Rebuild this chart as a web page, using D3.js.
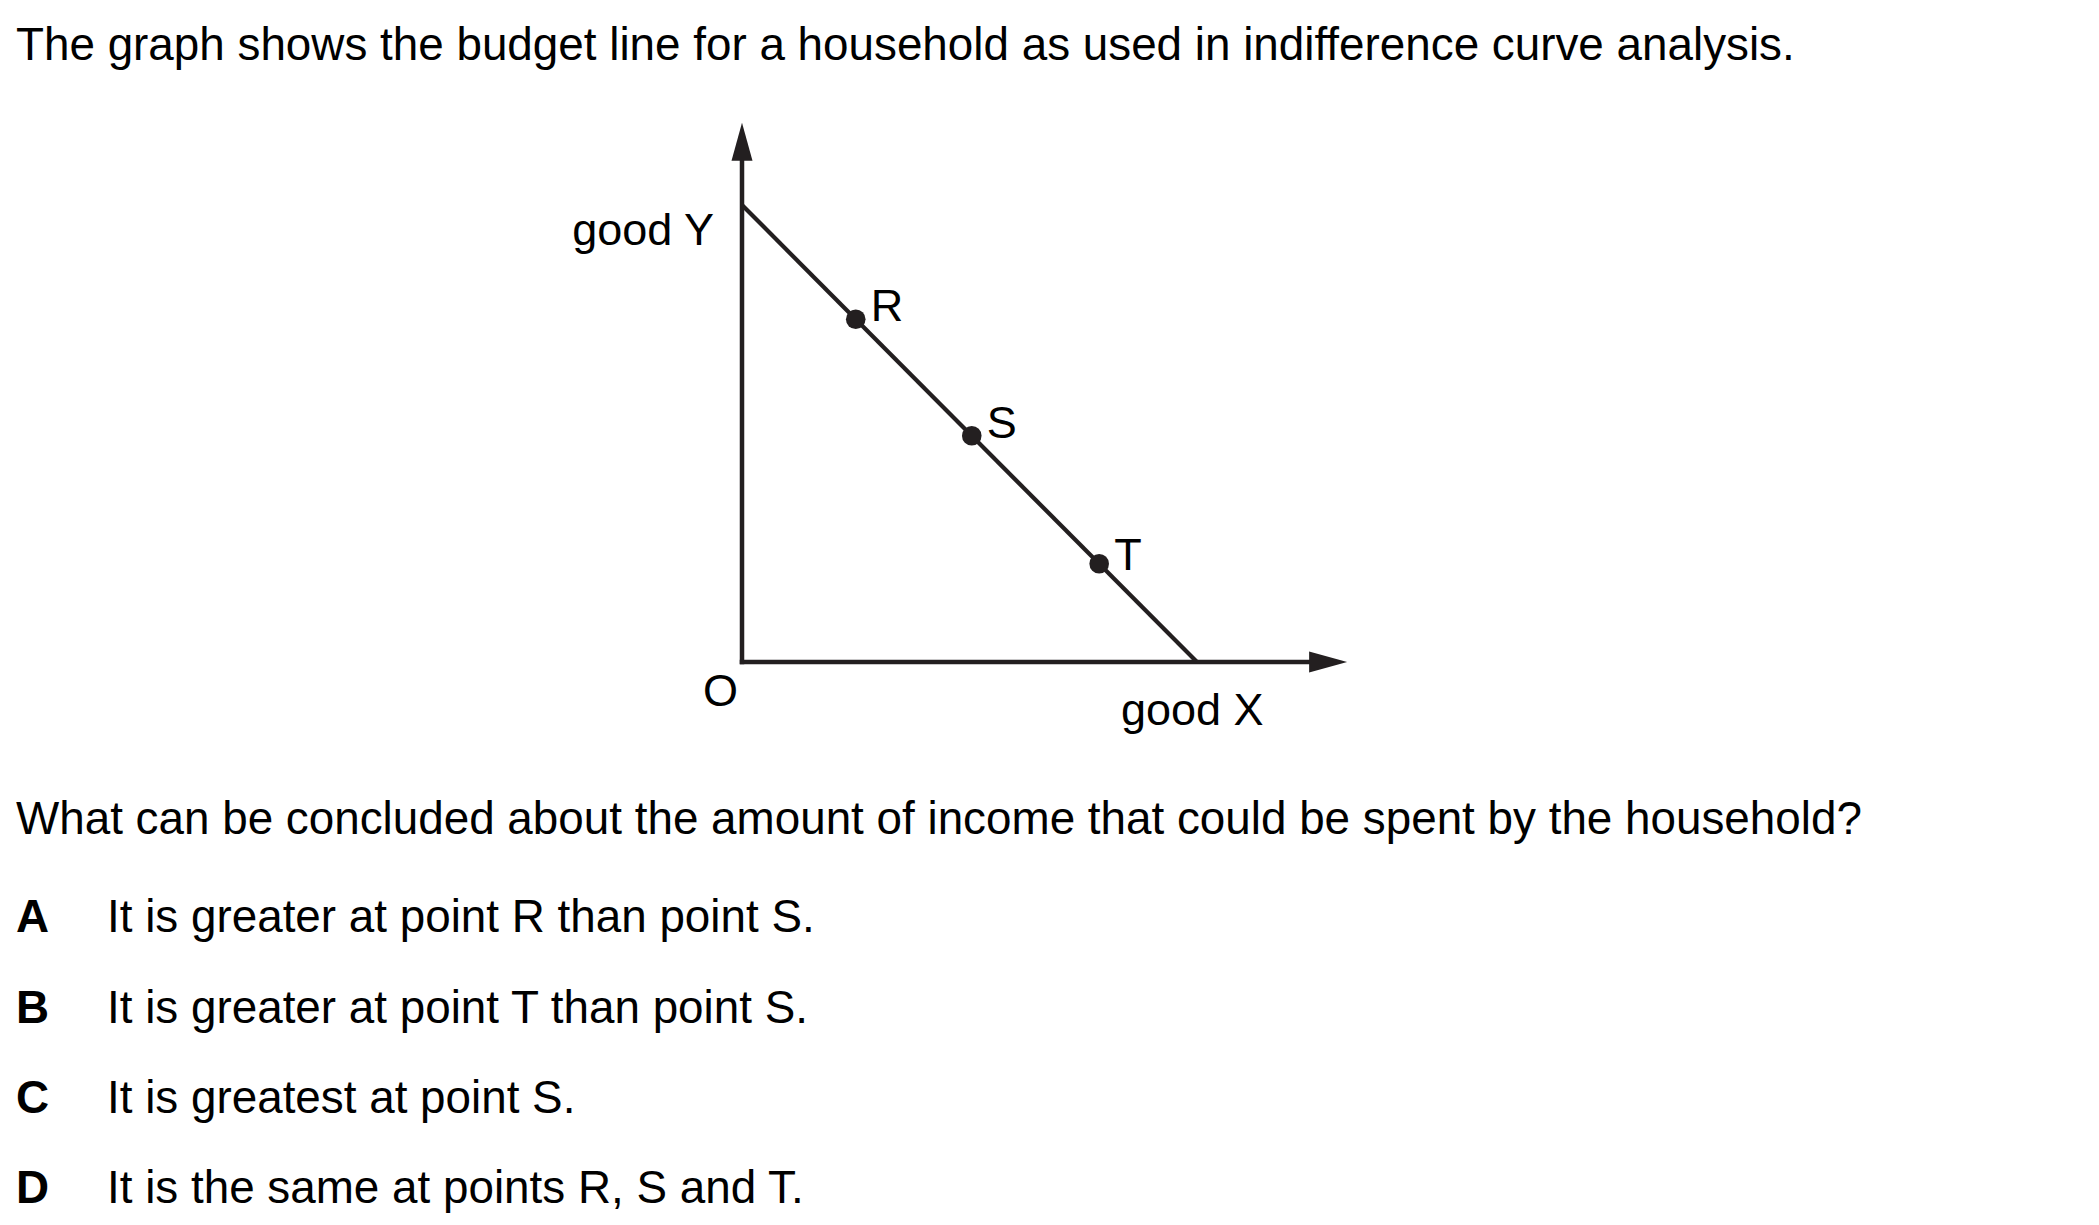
<!DOCTYPE html>
<html>
<head>
<meta charset="utf-8">
<script src="https://cdn.jsdelivr.net/npm/d3@7"></script>
<style>
  html, body { margin: 0; padding: 0; background: #ffffff; }
  svg { display: block; }
  text { font-family: "Liberation Sans", Arial, Helvetica, sans-serif; fill: #000; }
</style>
</head>
<body>
<svg id="chart" width="2099" height="1225"></svg>
<script>
// ---- data ----
const titleText = "The graph shows the budget line for a household as used in indifference curve analysis.";
const questionText = "What can be concluded about the amount of income that could be spent by the household?";
const optionLetters = ["A", "B", "C", "D"];
const optionTexts = [
  "It is greater at point R than point S.",
  "It is greater at point T than point S.",
  "It is greatest at point S.",
  "It is the same at points R, S and T."
];
const axisLabels = ["good X", "good Y"];
const originLabel = "O";
// budget line intercepts (units of good X / good Y)
const budgetX = [0, 10];
const budgetY = [10, 0];
// points on the budget line
const pointNames = ["R", "S", "T"];
const pointX = [2.5, 5.05, 7.85];
const pointY = [7.5, 4.95, 2.15];
// axis extents (arrow tips)
const axisMaxX = 13.3;
const axisMaxY = 11.8;

// ---- layout ----
const ink = "#231f20";
const bodySize = 45.8;
const svg = d3.select("#chart");
const x = d3.scaleLinear().domain([0, 10]).range([742, 1197]);
const y = d3.scaleLinear().domain([0, 10]).range([662, 205]);

// texts
svg.append("text").attr("x", 16).attr("y", 60).attr("font-size", bodySize).text(titleText);
svg.append("text").attr("x", 16).attr("y", 834).attr("font-size", bodySize).text(questionText);
const optBase = [932, 1023, 1113, 1203];
optionLetters.forEach((L, i) => {
  svg.append("text").attr("x", 16).attr("y", optBase[i]).attr("font-size", bodySize)
    .attr("font-weight", "bold").text(L);
  svg.append("text").attr("x", 107).attr("y", optBase[i]).attr("font-size", bodySize).text(optionTexts[i]);
});

// axes
const g = svg.append("g");
const arrowLen = 38, arrowHalf = 10.5, sw = 4.5;
// y axis
g.append("line")
  .attr("x1", x(0)).attr("y1", y(0) + sw / 2)
  .attr("x2", x(0)).attr("y2", y(axisMaxY) + arrowLen - 2)
  .attr("stroke", ink).attr("stroke-width", sw);
g.append("path")
  .attr("d", d3.line()([
    [x(0), y(axisMaxY)],
    [x(0) - arrowHalf, y(axisMaxY) + arrowLen],
    [x(0) + arrowHalf, y(axisMaxY) + arrowLen]
  ]) + "Z")
  .attr("fill", ink);
// x axis
g.append("line")
  .attr("x1", x(0) - sw / 2).attr("y1", y(0))
  .attr("x2", x(axisMaxX) - arrowLen + 2).attr("y2", y(0))
  .attr("stroke", ink).attr("stroke-width", sw);
g.append("path")
  .attr("d", d3.line()([
    [x(axisMaxX), y(0)],
    [x(axisMaxX) - arrowLen, y(0) - arrowHalf],
    [x(axisMaxX) - arrowLen, y(0) + arrowHalf]
  ]) + "Z")
  .attr("fill", ink);

// budget line
g.append("path")
  .datum(budgetX.map((d, i) => [d, budgetY[i]]))
  .attr("d", d3.line().x(d => x(d[0])).y(d => y(d[1])))
  .attr("fill", "none").attr("stroke", ink).attr("stroke-width", 4.2);

// points
g.selectAll("circle.pt").data(pointNames).enter().append("circle")
  .attr("class", "pt")
  .attr("cx", (d, i) => x(pointX[i])).attr("cy", (d, i) => y(pointY[i]))
  .attr("r", 9.8).attr("fill", ink);
g.selectAll("text.pt").data(pointNames).enter().append("text")
  .attr("class", "pt")
  .attr("x", (d, i) => x(pointX[i]) + 15).attr("y", (d, i) => y(pointY[i]) + (i === 2 ? 6 : 2))
  .attr("font-size", 45).text(d => d);

// axis labels
svg.append("text").attr("x", 1121).attr("y", 725).attr("font-size", 45).text(axisLabels[0]);
svg.append("text").attr("x", 714).attr("y", 245).attr("font-size", 45)
  .attr("text-anchor", "end").text(axisLabels[1]);
svg.append("text").attr("x", 703).attr("y", 706).attr("font-size", 45).text(originLabel);
</script>
</body>
</html>
